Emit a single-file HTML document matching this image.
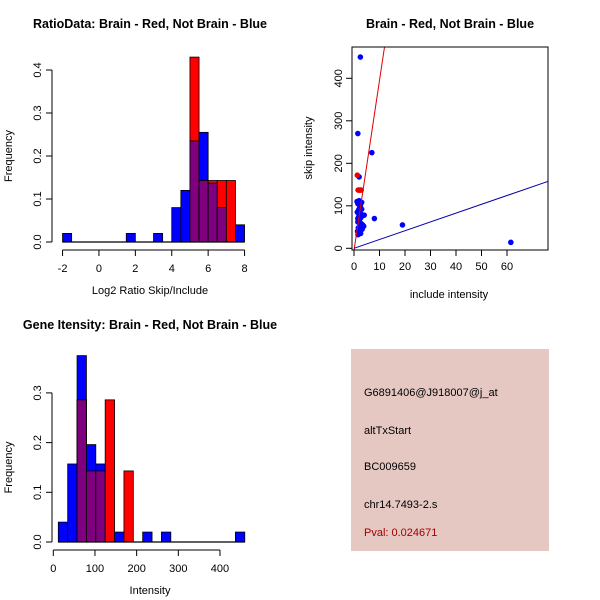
<!DOCTYPE html>
<html><head><meta charset="utf-8"><style>
body{margin:0;background:#fff}
svg{display:block;font-family:"Liberation Sans",sans-serif}
</style></head><body>
<svg id="c" width="600" height="600" viewBox="0 0 600 600">
<rect x="0" y="0" width="600" height="600" fill="#fff"/>
<g id="p1"></g>
<g id="p2"></g>
<g id="p3"></g>
<g id="p4">
<rect x="351" y="349" width="198" height="202" fill="#e6c8c2"/>
<text x="364" y="396" font-size="11">G6891406@J918007@j_at</text>
<text x="364" y="434" font-size="11">altTxStart</text>
<text x="364" y="470" font-size="11">BC009659</text>
<text x="364" y="508" font-size="11">chr14.7493-2.s</text>
<text x="364" y="536" font-size="11" fill="#a00000">Pval: 0.024671</text>
</g>
</svg>
<script>
// Ratio histogram data
const ratioBins = [-2,-1.5,-1,-0.5,0,0.5,1,1.5,2,2.5,3,3.5,4,4.5,5,5.5,6,6.5,7,7.5];
const ratioBlue = [0.02,0,0,0,0,0,0,0.02,0,0,0.02,0,0.08,0.12,0.235,0.255,0.137,0.08,0,0.04];
const ratioRed  = [0,0,0,0,0,0,0,0,0,0,0,0,0,0,0.43,0.143,0.143,0.143,0.143,0];
const ratioXTicks = [-2,0,2,4,6,8];
const ratioYTicks = [0,0.1,0.2,0.3,0.4];
// Gene intensity histogram data
const intBins = [12,34.5,57,79.5,102,124.5,147,169.5,192,214.5,237,259.5,437];
const intBlue = [0.04,0.157,0.375,0.196,0.157,0,0.02,0,0,0.02,0,0.02,0.02];
const intRed  = [0,0,0.286,0.143,0.143,0.286,0,0.143,0,0,0,0,0];
const intXTicks = [0,100,200,300,400];
const intYTicks = [0,0.1,0.2,0.3];
// Scatter data
const scInclude = [2.5,1.5,7,2,8,19,61.5,1.2,1.5,2,2.5,3,1.3,1.8,2.2,2.8,3.5,1.5,2,2.5,3,3.5,1.7,2.3,2.8,3.2,1.4,2,2.6,3.4,1.6,2.4,1.9,2.2,3,1.5,2.1,2.7,4,3.8];
const scSkip    = [450,270,225,168,70,55,14,110,105,112,100,108,85,90,95,80,78,70,65,60,55,50,48,52,58,45,40,38,35,55,32,36,75,88,92,62,68,72,78,52];
const scRedInclude = [1.3,1.6,2,2.4,2.8];
const scRedSkip = [172,137,137,137,137];
const scXTicks = [0,10,20,30,40,50,60];
const scYTicks = [0,100,200,300,400];
const redSlope = 40, redIntercept = -5;
const blueSlope = 2.07, blueIntercept = 0;

const NS = "http://www.w3.org/2000/svg";
function mk(parent, tag, attrs, text){const e=document.createElementNS(NS,tag);for(const k in attrs)e.setAttribute(k,attrs[k]);if(text!==undefined)e.textContent=text;parent.appendChild(e);return e;}

function histogram(g, o){
  const sx=v=>o.x0+(v-o.xmin)*o.kx, sy=v=>o.y0-v*o.ky;
  const t=mk(g,'text',{x:o.tx,y:o.ty,'font-size':12.5,'font-weight':'bold','text-anchor':'middle'},o.title);
  
  
  o.bins.forEach((b,i)=>{
    const bl=o.blue[i], rd=o.red[i], x=sx(b), w=o.bw*o.kx, mn=Math.min(bl,rd);
    if(bl>0){const r=mk(g,'rect',{x:x,y:sy(bl),width:w,height:sy(0)-sy(bl),fill:'#0000ff',stroke:'#000','stroke-width':0.8});
      
      }
    if(rd>0){const r=mk(g,'rect',{x:x,y:sy(rd),width:w,height:sy(0)-sy(rd),fill:'#ff0000',stroke:'#000','stroke-width':0.8});
      
      }
    if(mn>0){const r=mk(g,'rect',{x:x,y:sy(mn),width:w,height:sy(0)-sy(mn),fill:'#7f007f',stroke:'#000','stroke-width':0.8});
      
      }
  });
  const base=mk(g,'line',{x1:sx(o.bins[0]),x2:sx(o.bins[o.bins.length-1])+o.bw*o.kx,y1:sy(0),y2:sy(0),stroke:'#000','stroke-width':1.2});
  
  
  const xa=o.y0+8;
  const xl=mk(g,'line',{x1:sx(o.xt[0]),x2:sx(o.xt[o.xt.length-1]),y1:xa,y2:xa,stroke:'#000'});
  
  
  o.xt.forEach(v=>{mk(g,'line',{x1:sx(v),x2:sx(v),y1:xa,y2:xa+6,stroke:'#000'});
    const tt=mk(g,'text',{x:sx(v),y:xa+22,'font-size':11,'text-anchor':'middle'},String(v));
    
    });
  const xt=mk(g,'text',{x:o.tx,y:o.y0+52,'font-size':11,'text-anchor':'middle'},o.xlab);
  
  
  const ya=o.yax;
  const yl=mk(g,'line',{x1:ya,x2:ya,y1:sy(0),y2:sy(o.yt[o.yt.length-1]),stroke:'#000'});
  
  
  o.yt.forEach(v=>{mk(g,'line',{x1:ya,x2:ya-6,y1:sy(v),y2:sy(v),stroke:'#000'});
    const tt=mk(g,'text',{x:ya-11,y:sy(v),'font-size':11,'text-anchor':'middle',transform:`rotate(-90 ${ya-11} ${sy(v)})`},v.toFixed(1));
    
    });
  const ym=(sy(0)+sy(o.yt[o.yt.length-1]))/2;
  const yt=mk(g,'text',{x:12,y:ym,'font-size':11,'text-anchor':'middle',transform:`rotate(-90 12 ${ym})`},'Frequency');
  
  
}

histogram(document.getElementById('p1'),{bins:ratioBins,blue:ratioBlue,red:ratioRed,bw:0.5,xmin:-2.25,x0:58,kx:18.2,y0:242,ky:430,
  xt:ratioXTicks,yt:ratioYTicks,yax:52,tx:150,ty:28,title:'RatioData: Brain - Red, Not Brain - Blue',xlab:'Log2 Ratio Skip/Include'});
histogram(document.getElementById('p3'),{bins:intBins,blue:intBlue,red:intRed,bw:22.5,xmin:0,x0:53.3,kx:0.4167,y0:542,ky:497,
  xt:intXTicks,yt:intYTicks,yax:52,tx:150,ty:329,title:'Gene Itensity: Brain - Red, Not Brain - Blue',xlab:'Intensity'});

(function(){
  const g=document.getElementById('p2');
  const L=352,R=548,T=47,B=250;
  const sx=v=>354+v*2.55, sy=v=>248.3-v*0.425;
  const t=mk(g,'text',{x:450,y:28,'font-size':12.5,'font-weight':'bold','text-anchor':'middle'},'Brain - Red, Not Brain - Blue');
  
  
  const cp=mk(g,'clipPath',{id:'clip2'});mk(cp,'rect',{x:L,y:T,width:R-L,height:B-T});
  const pts=mk(g,'g',{'clip-path':'url(#clip2)'});
  
  
  scInclude.forEach((v,i)=>{const c=mk(pts,'circle',{cx:sx(v),cy:sy(scSkip[i]),r:2.8,fill:'#0000ff'});
    
    });
  scRedInclude.forEach((v,i)=>{const c=mk(pts,'circle',{cx:sx(v),cy:sy(scRedSkip[i]),r:2.8,fill:'#ee0000'});
    
    });
  const rl=mk(pts,'line',{x1:sx(0),y1:sy(redIntercept),x2:sx(14),y2:sy(redIntercept+redSlope*14),stroke:'#dd0000','stroke-width':1});
  
  
  const bl=mk(pts,'line',{x1:sx(0),y1:sy(blueIntercept),x2:sx(90),y2:sy(blueIntercept+blueSlope*90),stroke:'#0000aa','stroke-width':1});
  
  
  const box=mk(g,'rect',{x:L,y:T,width:R-L,height:B-T,fill:'none',stroke:'#000'});
  
  
  scXTicks.forEach(v=>{mk(g,'line',{x1:sx(v),x2:sx(v),y1:B,y2:B+6,stroke:'#000'});
    const tt=mk(g,'text',{x:sx(v),y:B+20,'font-size':11,'text-anchor':'middle'},String(v));
    
    });
  scYTicks.forEach(v=>{mk(g,'line',{x1:L,x2:L-6,y1:sy(v),y2:sy(v),stroke:'#000'});
    const tt=mk(g,'text',{x:L-10,y:sy(v),'font-size':11,'text-anchor':'middle',transform:`rotate(-90 ${L-10} ${sy(v)})`},String(v));
    
    });
  const xt=mk(g,'text',{x:449,y:298,'font-size':11,'text-anchor':'middle'},'include intensity');
  
  
  const yt=mk(g,'text',{x:312,y:148,'font-size':11,'text-anchor':'middle',transform:'rotate(-90 312 148)'},'skip intensity');
  
  
})();
</script>
</body></html>
